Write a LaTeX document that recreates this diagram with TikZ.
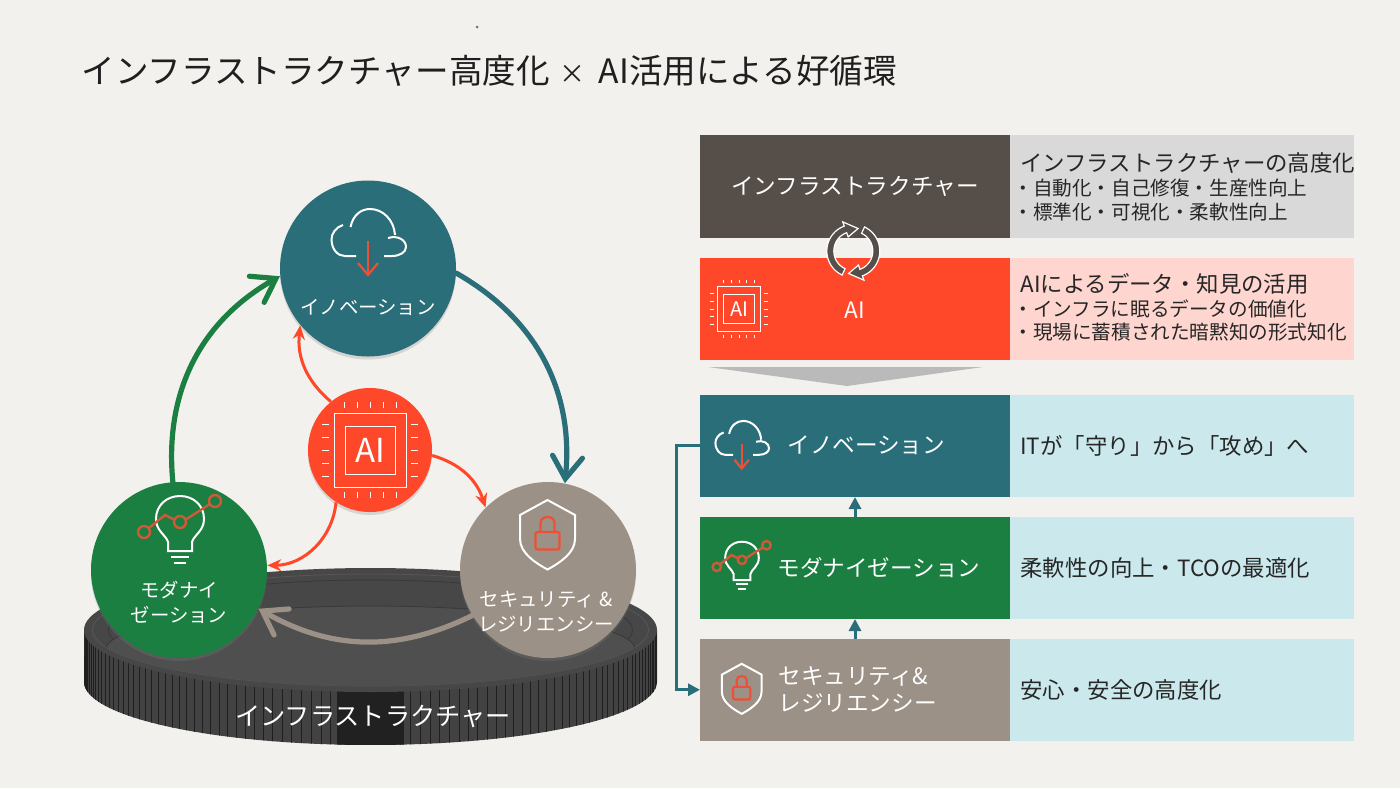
\documentclass[tikz,border=0pt]{standalone}
\usepackage{fontspec}
\setmainfont{Noto Sans CJK JP}
\usetikzlibrary{arrows.meta, positioning, calc, shadows}

\definecolor{bgpage}{HTML}{F3F1EE}
\definecolor{tealc}{HTML}{2A6E7A}
\definecolor{greenc}{HTML}{1A7F41}
\definecolor{brownc}{HTML}{9C9186}
\definecolor{redc}{HTML}{FF4729}
\definecolor{darkc}{HTML}{564E48}
\definecolor{iconred}{HTML}{EE4F36}
\definecolor{chartred}{HTML}{CF5A3A}
\definecolor{infogray}{HTML}{D9D9D9}
\definecolor{infored}{HTML}{FFD6CF}
\definecolor{infoblue}{HTML}{CBE9EC}

\tikzset{
  rowbox/.style={minimum width=155pt, minimum height=51.25pt, inner sep=0pt, outer sep=0pt},
  infobox/.style={minimum width=172pt, minimum height=51.25pt, inner sep=0pt, outer sep=0pt},
  rowlabel/.style={text=white, font=\fontsize{11.3}{13.5}\selectfont, inner sep=0pt, align=left},
  infohead/.style={text=black!85, font=\fontsize{11.2}{13}\selectfont, inner sep=0pt, anchor=west},
  infoline/.style={text=black!85, font=\fontsize{9.8}{12}\selectfont, inner sep=0pt, anchor=west},
  infomain/.style={text=black!85, font=\fontsize{11.2}{13}\selectfont, inner sep=0pt, anchor=west},
  bigcircle/.style={circle, minimum size=88pt, inner sep=0pt,
        drop shadow={opacity=.25, shadow xshift=0pt, shadow yshift=-1.5pt}},
  circlelabel/.style={text=white, font=\fontsize{9.7}{12.5}\selectfont, inner sep=0pt, align=center},
  cyclearrow/.style={line width=2.6pt, line cap=round,
        -{Straight Barb[length=11pt, width=15pt, line cap=round]}},
  redarrow/.style={draw=redc, line width=1.5pt, -{Stealth[length=7pt, width=6pt]}},
  rowarrow/.style={draw=tealc, line width=1.5pt, -{Triangle[length=6pt, width=6pt]}},
  pics/cloudicon/.style={code={
    \draw[white, line width=1pt] (-25,-7) .. controls (-32,-5) and (-37,2) .. (-36.5,8)
       .. controls (-36,18) and (-30,24) .. (-23,24) -- (-12,24);
    \draw[white, line width=1pt] (-17.5,-5) .. controls (-15,-17) and (-7,-23) .. (2,-23)
       .. controls (15,-23) and (26,-12) .. (27,3);
    \draw[white, line width=1pt] (20,6) .. controls (30,3) and (38,8) .. (38,15)
       .. controls (38,20) and (32,24) .. (24,24) -- (16,24);
    \draw[iconred, line width=1.1pt] (0,9) -- (0,43);
    \draw[iconred, line width=1.1pt] (-10,31) -- (0,43) -- (10,31);
  }},
  pics/chipicon/.style={code={
    \draw[white, line width=0.5pt] (-36,-37) rectangle (36,37);
    \draw[white, line width=0.5pt] (-25,-24) rectangle (25,24);
    \foreach \t in {-26,-13,0,13,26} {
      \draw[white, line width=0.5pt] (\t,-48) -- (\t,-42);
      \draw[white, line width=0.5pt] (\t,42) -- (\t,48);
      \draw[white, line width=0.5pt] (-48,\t) -- (-41,\t);
      \draw[white, line width=0.5pt] (41,\t) -- (48,\t);
    }
    \node[text=white, inner sep=0pt, font=#1] (-name) at (0,0) {AI};
  }},
  pics/bulbicon/.style={code={
    \draw[white, line width=1pt] (-12,26) -- (-12,17) .. controls (-14,10) and (-24,6) .. (-24,-6)
       .. controls (-24,-20) and (-13,-29) .. (0,-29) .. controls (13,-29) and (24,-20) .. (24,-6)
       .. controls (24,6) and (14,10) .. (12,17) -- (12,26) -- cycle;
    \draw[white, line width=1pt] (-9,32) -- (9,32) (-6,38) -- (6,38);
    \draw[chartred, line width=1.2pt] (-31,3) -- (-15,-10) -- (-5,-5)
       (5,-5) -- (30,-21);
    \draw[chartred, line width=1.2pt] (-36,7) circle[radius=6] (0,-3) circle[radius=6] (35,-24) circle[radius=6];
  }},
  pics/shieldicon/.style={code={
    \draw[white, line width=1pt] (0,-35) -- (27.5,-20) -- (27.5,4)
       .. controls (27.5,18) and (12,28) .. (0,34.5) .. controls (-12,28) and (-27.5,18) .. (-27.5,4)
       -- (-27.5,-20) -- cycle;
    \draw[iconred, line width=1.1pt, rounded corners=1pt] (-12,-3) rectangle (12,14.5);
    \draw[iconred, line width=1.1pt] (-7,-3) -- (-7,-12) .. controls (-7,-20) and (7,-20) .. (7,-12) -- (7,-3);
  }},
  pics/turnarrow/.style={code={
    \fill[darkc, draw=white, line width=0.6pt]
      plot[domain=115:250, samples=24] (\x:19.5)
      -- (250:15) -- (282:23) -- (250:31) -- (250:26.5)
      -- plot[domain=250:115, samples=24] (\x:26.5) -- cycle;
  }}
}

\begin{document}
\begin{tikzpicture}[x=0.5pt, y=-0.5pt, >=Stealth]
  \fill[bgpage] (0,0) rectangle (1400,788);
  \useasboundingbox (0,0) rectangle (1400,788);
  \fill[black!55] (477,27) circle[radius=1.5];

  \node[anchor=west, inner sep=0pt, text=black!88,
        font=\fontsize{16.8}{20}\selectfont] (title) at (81,71)
    {インフラストラクチャー高度化\hspace{1pt} {\fontsize{13}{20}\selectfont ×}\hspace{3pt} AI活用による好循環};

  % disc
  \shade[left color=black!74, middle color=black!84, right color=black!74] (84.5,630)
    -- plot[domain=180:0, samples=60] ({370.5+286.5*cos(\x)},{682+63*sin(\x)})
    -- (657,630) -- cycle;
  \begin{scope}
    \clip (84.5,630)
      -- plot[domain=180:0, samples=60] ({370.5+286.5*cos(\x)},{682+63*sin(\x)})
      -- (657,630) -- cycle;
    \foreach \a in {2,4,...,178} {
      \draw[black!88, line width=0.25pt] ({370.5+286*cos(\a)},630) -- ++(0,120);
    }
    \fill[black!87] (337,680) rectangle (404,750);
  \end{scope}
  \fill[black!72] (370.5,630) ellipse[x radius=286.5, y radius=62];
  \draw[black!66, line width=0.4pt] (370.5,630) ellipse[x radius=278, y radius=56];
  \draw[black!78, line width=0.4pt] (370.5,630) ellipse[x radius=262, y radius=50];
  \begin{scope}
    \clip (370.5,630) ellipse[x radius=278, y radius=56];
    \fill[black!69, draw=black!78, line width=0.4pt] (370.5,650) ellipse[x radius=265, y radius=44];
  \end{scope}
  \node[rowlabel, font=\fontsize{12.6}{15}\selectfont] (discname) at (373,716) {インフラストラクチャー};

  % circles
  \node[bigcircle, fill=tealc] (innov) at (368,268.5) {};
  \node[bigcircle, fill=greenc] (moder) at (179,570) {};
  \node[bigcircle, fill=brownc] (secur) at (548,570) {};
  \node[circle, minimum size=62pt, inner sep=0pt, fill=redc,
        drop shadow={opacity=.25, shadow xshift=0pt, shadow yshift=-1.5pt}] (aicore) at (370,450) {};

  \pic at (368,232) {cloudicon};
  \pic at (370,450) {chipicon={\fontsize{16.5}{16.5}\selectfont}};
  \pic at (180,525) {bulbicon};
  \pic at (547.5,535) {shieldicon};

  \node[circlelabel] (innovname) at (368,307) {イノベーション};
  \node[circlelabel] (modername) at (179,602.5) {モダナイ\\ゼーション};
  \node[circlelabel] (securname) at (546,612) {セキュリティ \&\\レジリエンシー};

  % cycle
  \draw[cyclearrow, greenc] (moder.94) to[bend left=33] (innov.185);
  \draw[cyclearrow, tealc] (innov.-3) to[bend left=33] (secur.79);
  \draw[cyclearrow, brownc] (secur.211) to[bend left=28] (moder.-26);

  \draw[redarrow] (aicore.129) to[bend left=28] (innov.220);
  \draw[redarrow] (aicore.-5) to[bend left=28] (secur.135);
  \draw[redarrow] (aicore.237) to[bend left=42] (moder.3);

  % table
  \node[rowbox, fill=darkc] (rowinfra) at (855,186.25) {};
  \node[rowbox, fill=redc, below=10pt of rowinfra] (rowai) {};
  \node[rowbox, fill=tealc, below=17.25pt of rowai] (rowinnov) {};
  \node[rowbox, fill=greenc, below=9.75pt of rowinnov] (rowmoder) {};
  \node[rowbox, fill=brownc, below=9.75pt of rowmoder] (rowsecur) {};

  \node[infobox, fill=infogray, right=0pt of rowinfra] (infoinfra) {};
  \node[infobox, fill=infored, right=0pt of rowai] (infoai) {};
  \node[infobox, fill=infoblue, right=0pt of rowinnov] (infoinnov) {};
  \node[infobox, fill=infoblue, right=0pt of rowmoder] (infomoder) {};
  \node[infobox, fill=infoblue, right=0pt of rowsecur] (infosecur) {};

  \node[rowlabel] (labelinfra) at (rowinfra) {インフラストラクチャー};
  \node[rowlabel, yshift=-0.5pt] (labelai) at (rowai) {AI};
  \node[rowlabel, anchor=west, xshift=43.5pt] (labelinnov) at (rowinnov.west) {イノベーション};
  \node[rowlabel, anchor=west, xshift=38.5pt] (labelmoder) at (rowmoder.west) {モダナイゼーション};
  \node[rowlabel, anchor=west, xshift=39pt] (labelsecur) at (rowsecur.west) {セキュリティ\&\\レジリエンシー};

  \pic[scale=0.61] at (739,309) {chipicon={\fontsize{10}{10}\selectfont}};
  \pic[scale=0.72] at (741.7,437.5) {cloudicon};
  \pic[scale=0.7] at (742,562) {bulbicon};
  \pic[scale=0.72] at (741.7,689) {shieldicon};

  \node[infohead, xshift=5pt, yshift=11.5pt] (headinfra) at (infoinfra.west) {インフラストラクチャーの高度化};
  \node[infoline, xshift=1.5pt, yshift=-1pt] (lineinfraa) at (infoinfra.west) {・自動化・自己修復・生産性向上};
  \node[infoline, xshift=1.5pt, yshift=-13pt] (lineinfrab) at (infoinfra.west) {・標準化・可視化・柔軟性向上};
  \node[infohead, xshift=5pt, yshift=12.5pt] (headai) at (infoai.west) {AIによるデータ・知見の活用};
  \node[infoline, xshift=1.5pt] (lineaia) at (infoai.west) {・インフラに眠るデータの価値化};
  \node[infoline, xshift=1.5pt, yshift=-11.5pt] (lineaib) at (infoai.west) {・現場に蓄積された暗黙知の形式知化};
  \node[infomain, xshift=5pt] (textinnov) at (infoinnov.west) {ITが「守り」から「攻め」へ};
  \node[infomain, xshift=5pt] (textmoder) at (infomoder.west) {柔軟性の向上・TCOの最適化};
  \node[infomain, xshift=5pt] (textsecur) at (infosecur.west) {安心・安全の高度化};

  \pic at (853.3,251) {turnarrow};
  \pic[rotate=180] at (853.3,251) {turnarrow};

  \fill[black!27] (708,367) -- (983,367) -- (847,386) -- cycle;

  \draw[rowarrow] (rowmoder.north) -- (rowinnov.south);
  \draw[rowarrow] (rowsecur.north) -- (rowmoder.south);
  \draw[rowarrow] (rowinnov.west) -- ++(-24,0) |- (rowsecur.west);
\end{tikzpicture}
\end{document}
